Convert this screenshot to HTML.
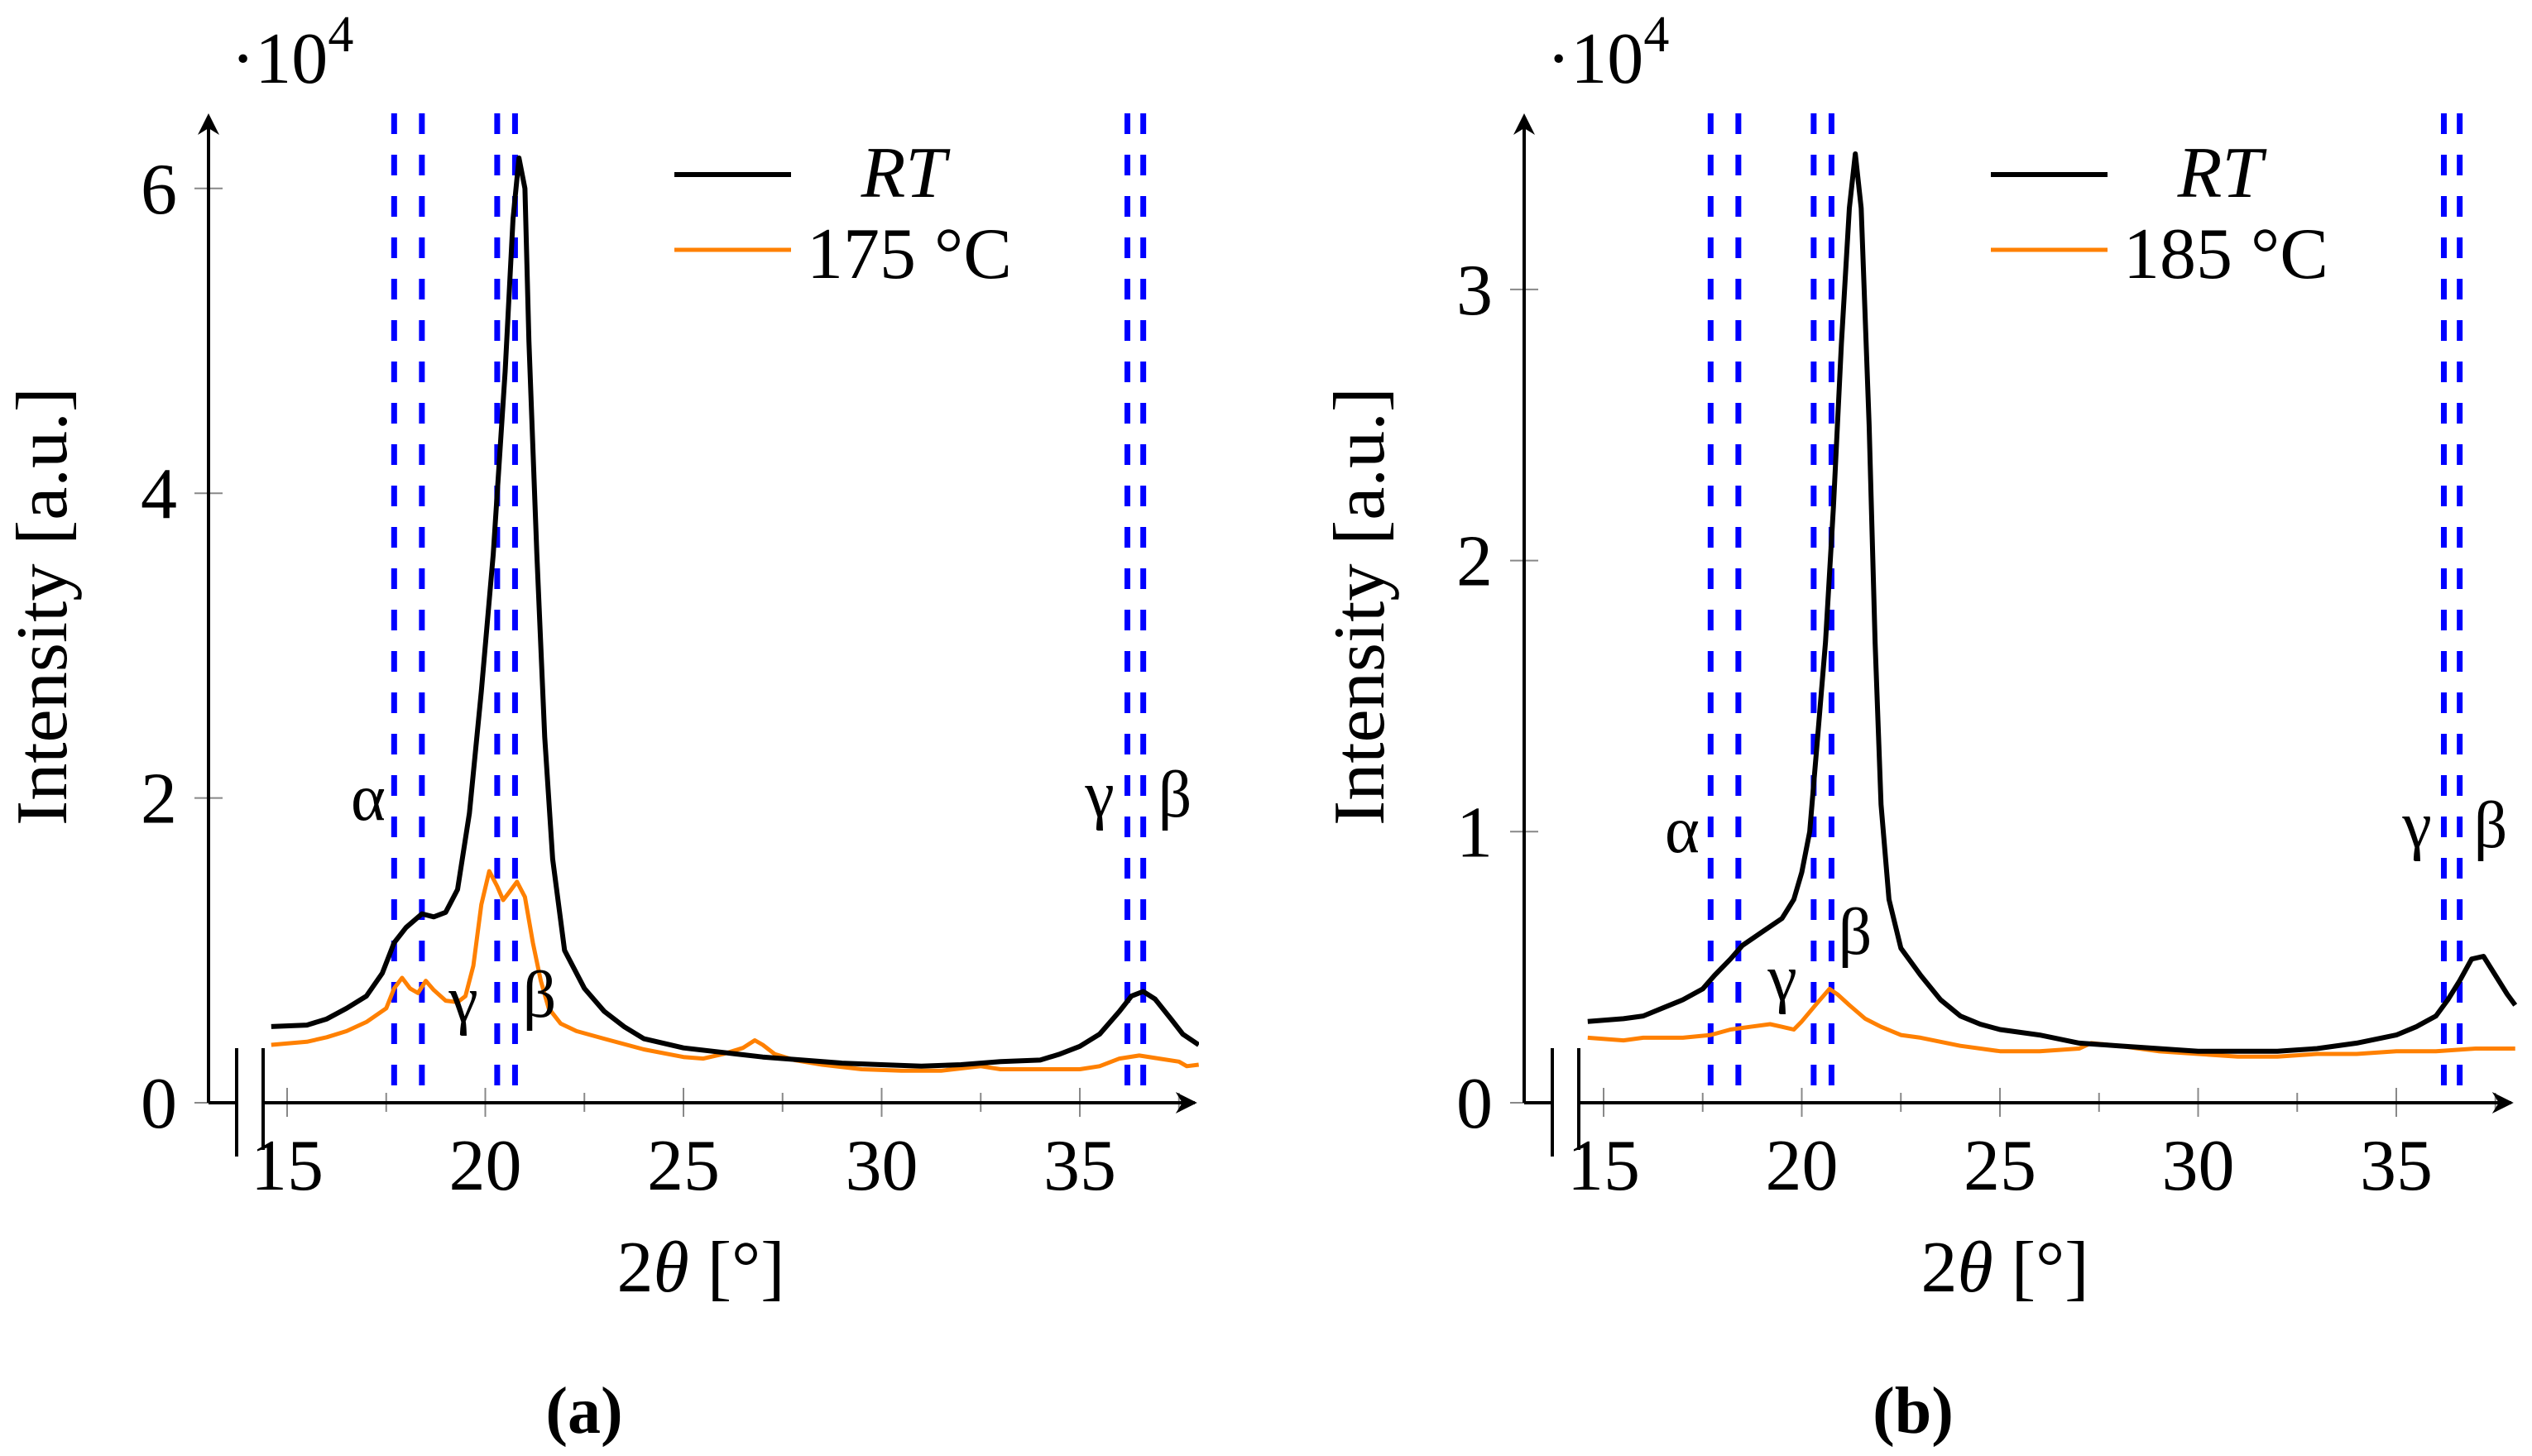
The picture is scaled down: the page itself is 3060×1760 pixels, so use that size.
<!DOCTYPE html>
<html><head><meta charset="utf-8">
<style>
html,body{margin:0;padding:0;background:#fff;}
svg{display:block;}
svg text{font-family:"Liberation Serif","DejaVu Serif","Noto Serif CJK SC",serif;fill:#000;}
</style></head>
<body>
<svg id="fig" width="3060" height="1760" viewBox="0 0 3060 1760" xmlns="http://www.w3.org/2000/svg" font-family="Liberation Serif, DejaVu Serif, serif">
<defs>
<clipPath id="clipA"><rect x="252" y="100" width="1197" height="1240"/></clipPath>
<clipPath id="clipB"><rect x="1842" y="100" width="1200" height="1240"/></clipPath>
</defs>
</svg>
<script>
// Panel (a) data
const rtAx = [14.6,15.5,16,16.5,17,17.4,17.7,18.0,18.4,18.7,19.0,19.3,19.6,19.9,20.2,20.5,20.7,20.85,21.0,21.1,21.3,21.5,21.7,22.0,22.5,23,23.5,24,25,26,27,28,29,30,31,32,33,34,34.5,35,35.5,36,36.3,36.6,36.9,37.3,37.6,38];
const rtAy = [0.50,0.51,0.55,0.62,0.70,0.85,1.05,1.15,1.24,1.22,1.25,1.40,1.90,2.70,3.60,4.80,5.80,6.20,6.00,5.00,3.60,2.40,1.60,1.00,0.75,0.60,0.50,0.42,0.36,0.33,0.30,0.28,0.26,0.25,0.24,0.25,0.27,0.28,0.32,0.37,0.45,0.60,0.70,0.73,0.68,0.55,0.45,0.38];
const hotAx = [14.6,15.5,16,16.5,17,17.5,17.7,17.9,18.1,18.3,18.5,18.7,19.0,19.3,19.5,19.7,19.9,20.1,20.3,20.45,20.6,20.8,21.0,21.2,21.4,21.6,21.9,22.3,23,24,25,25.5,26,26.5,26.8,27,27.3,27.8,28.5,29.5,30.5,31.5,32.5,33,34,35,35.5,36,36.5,37,37.5,37.7,38];
const hotAy = [0.38,0.40,0.43,0.47,0.53,0.62,0.75,0.82,0.75,0.72,0.80,0.74,0.67,0.66,0.70,0.90,1.30,1.52,1.42,1.33,1.38,1.45,1.35,1.05,0.80,0.62,0.52,0.47,0.42,0.35,0.30,0.29,0.32,0.36,0.41,0.38,0.32,0.28,0.25,0.22,0.21,0.21,0.24,0.22,0.22,0.22,0.24,0.29,0.31,0.29,0.27,0.24,0.25];
// Panel (b) data
const rtBx = [14.6,15.5,16,16.5,17,17.5,17.8,18.2,18.5,19.0,19.5,19.8,20.0,20.2,20.4,20.6,20.8,21.0,21.2,21.35,21.5,21.7,21.85,22.0,22.2,22.5,23,23.5,24,24.5,25,26,27,28,29,30,31,32,33,34,35,35.5,36,36.3,36.6,36.9,37.2,37.5,37.8,38];
const rtBy = [0.30,0.31,0.32,0.35,0.38,0.42,0.47,0.53,0.58,0.63,0.68,0.75,0.85,1.00,1.35,1.70,2.20,2.80,3.30,3.50,3.30,2.50,1.70,1.10,0.75,0.57,0.47,0.38,0.32,0.29,0.27,0.25,0.22,0.21,0.20,0.19,0.19,0.19,0.20,0.22,0.25,0.28,0.32,0.38,0.45,0.53,0.54,0.47,0.40,0.36];
const hotBx = [14.6,15.5,16,17,17.7,18.2,18.7,19.2,19.5,19.8,20.0,20.4,20.7,20.9,21.2,21.6,22,22.5,23,24,25,26,27,27.3,28,29,30,31,32,33,34,35,36,37,38];
const hotBy = [0.24,0.23,0.24,0.24,0.25,0.27,0.28,0.29,0.28,0.27,0.30,0.37,0.42,0.40,0.36,0.31,0.28,0.25,0.24,0.21,0.19,0.19,0.20,0.22,0.21,0.19,0.18,0.17,0.17,0.18,0.18,0.19,0.19,0.20,0.20];
const xTicks = [15,20,25,30,35];
const xMinor = [17.5,22.5,27.5,32.5,37.5];
const yTicksA = [0,2,4,6];
const yTicksB = [0,1,2,3];
const phaseLines = [17.7,18.4,20.3,20.75,36.2,36.6];

const NS = "http://www.w3.org/2000/svg";
const svg = document.getElementById('fig');
function mk(tag, attrs, parent){
  const e = document.createElementNS(NS, tag);
  for (const k in attrs) e.setAttribute(k, attrs[k]);
  (parent||svg).appendChild(e);
  return e;
}

function panel(cfg){
  const g = mk('g', {});
  
  
  const X = v => cfg.x15 + (v - 15) * 47.9;
  const Y = v => 1333 - v * cfg.py;
  const ax = cfg.axisX;
  phaseLines.forEach(p => {
    const l = mk('line', {x1:X(p), x2:X(p), y1:137, y2:1333, stroke:'#0000ff', 'stroke-width':7, 'stroke-dasharray':'25 25'}, g);
    
    
  });
  xTicks.forEach(t => {
    const l = mk('line', {x1:X(t), x2:X(t), y1:1315, y2:1350, stroke:'#888', 'stroke-width':2}, g);
    
    
    const tx = mk('text', {x:X(t), y:1438, 'font-size':88, 'text-anchor':'middle'}, g);
    tx.textContent = t;
    
    
  });
  xMinor.forEach(t => {
    const l = mk('line', {x1:X(t), x2:X(t), y1:1321, y2:1344, stroke:'#888', 'stroke-width':2}, g);
    
    
  });
  cfg.yTicks.forEach(t => {
    const l = mk('line', {x1:ax-17, x2:ax+17, y1:Y(t), y2:Y(t), stroke:'#888', 'stroke-width':2}, g);
    
    
    const tx = mk('text', {x:ax-38, y:Y(t)+30, 'font-size':88, 'text-anchor':'end'}, g);
    tx.textContent = t;
    
    
  });
  function series(xs, ys, color, w, name){
    let d = '';
    xs.forEach((v,i) => { d += (i ? 'L' : 'M') + X(v).toFixed(1) + ' ' + Y(ys[i]).toFixed(1); });
    const p = mk('path', {d:d, fill:'none', stroke:color, 'stroke-width':w, 'stroke-linejoin':'round', 'clip-path':'url(#' + cfg.clip + ')'}, g);
    
    
  }
  series(cfg.hx, cfg.hy, '#ff8000', 5, 'series-heated');
  series(cfg.rx, cfg.ry, '#000000', 6, 'series-rt');
  const ya = mk('path', {d:`M${ax} 1333 L${ax} 150`, stroke:'#000', 'stroke-width':4, fill:'none'}, g);
  
  
  const yarr = mk('path', {d:`M${ax} 137 L${ax-13} 163 L${ax} 155 L${ax+13} 163 Z`, fill:'#000'}, g);
  
  
  const b1 = ax + 34, b2 = ax + 66;
  const xa1 = mk('path', {d:`M${ax} 1333 L${b1} 1333 M${b2} 1333 L${X(37.9)} 1333`, stroke:'#000', 'stroke-width':4, fill:'none'}, g);
  
  
  const xt = X(37.96);
  const xarr = mk('path', {d:`M${xt} 1333 L${xt-26} 1320 L${xt-18} 1333 L${xt-26} 1346 Z`, fill:'#000'}, g);
  
  
  const br = mk('path', {d:`M${b1} 1267 L${b1} 1398 M${b2} 1267 L${b2} 1390`, stroke:'#000', 'stroke-width':4, fill:'none'}, g);
  
  
  const ex = mk('text', {x:ax+27, y:100, 'font-size':88}, g);
  ex.innerHTML = '·10<tspan font-size="62" dy="-38">4</tspan>';
  
  
  const yt = mk('text', {x:0, y:0, 'font-size':88, 'text-anchor':'middle', transform:`translate(${cfg.ytX},733) rotate(-90)`, textLength:530, lengthAdjust:'spacingAndGlyphs'}, g);
  yt.textContent = 'Intensity [a.u.]';
  
  
  const xtt = mk('text', {x:cfg.xtX, y:1561, 'font-size':88, 'text-anchor':'middle'}, g);
  xtt.innerHTML = '2<tspan font-style="italic">θ</tspan> [°]';
  
  
  const cap = mk('text', {x:cfg.capX, y:1732, 'font-size':80, 'text-anchor':'middle', 'font-weight':'bold'}, g);
  cap.textContent = cfg.cap;
  
  
  const lg = mk('g', {}, g);
  
  
  const l1 = mk('line', {x1:cfg.lgX, x2:cfg.lgX+141, y1:211, y2:211, stroke:'#000', 'stroke-width':6}, lg);
  
  
  const t1 = mk('text', {x:cfg.lgX+277, y:238, 'font-size':88, 'text-anchor':'middle', 'font-style':'italic'}, lg);
  t1.textContent = 'RT';
  
  
  const l2 = mk('line', {x1:cfg.lgX, x2:cfg.lgX+141, y1:302, y2:302, stroke:'#ff8000', 'stroke-width':5}, lg);
  
  
  const t2 = mk('text', {x:cfg.lgX+160, y:336, 'font-size':88}, lg);
  t2.textContent = cfg.temp;
  
  
  cfg.greek.forEach(gk => {
    const t = mk('text', {x:gk[1], y:gk[2]+25, 'font-size':80, 'text-anchor':'middle'}, g);
    t.textContent = gk[0];
    
    
  });
}

panel({name:'panel-a', x15:347, py:184.2, axisX:252, yTicks:yTicksA, rx:rtAx, ry:rtAy, hx:hotAx, hy:hotAy, clip:'clipA',
  ytX:80, xtX:847, capX:706, cap:'(a)', lgX:815, temp:'175 °C',
  greek:[['α',445,966],['γ',560,1210],['β',652,1204],['γ',1329,962],['β',1420,962]]});
panel({name:'panel-b', x15:1938, py:327.7, axisX:1842, yTicks:yTicksB, rx:rtBx, ry:rtBy, hx:hotBx, hy:hotBy, clip:'clipB',
  ytX:1672, xtX:2423, capX:2312, cap:'(b)', lgX:2406, temp:'185 °C',
  greek:[['α',2033,1005],['γ',2154,1184],['β',2242,1128],['γ',2921,999],['β',3010,999]]});
</script>
</body></html>
